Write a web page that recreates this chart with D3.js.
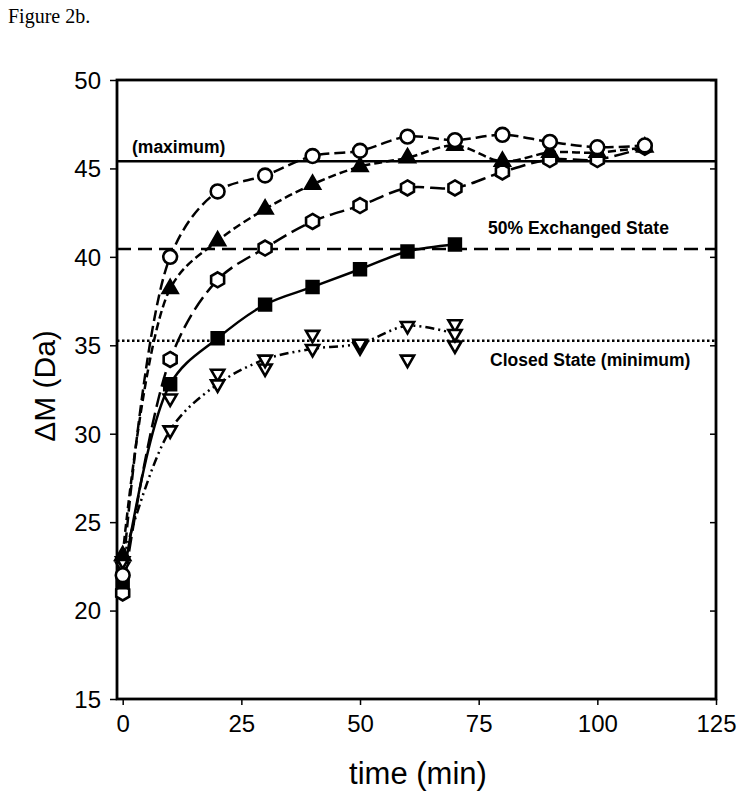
<!DOCTYPE html>
<html>
<head>
<meta charset="utf-8">
<script src="https://cdn.jsdelivr.net/npm/d3@7"></script>
<style>
  body { margin: 0; background: #fff; }
  svg { display: block; }
</style>
</head>
<body>
<svg id="chart" width="745" height="801"></svg>
<script>
// ---- data ----
const times = [0, 10, 20, 30, 40, 50, 60, 70, 80, 90, 100, 110];
const openCircle   = [22.0, 40.0, 43.7, 44.6, 45.7, 46.0, 46.8, 46.6, 46.9, 46.5, 46.2, 46.3];
const filledTri    = [23.1, 38.2, 40.9, 42.7, 44.1, 45.1, 45.6, 46.3, 45.4, 45.9, 45.9, 46.2];
const openHex      = [21.0, 34.2, 38.7, 40.5, 42.0, 42.9, 43.9, 43.9, 44.8, 45.5, 45.5, 46.2];
const squareTimes  = [0, 10, 20, 30, 40, 50, 60, 70];
const filledSquare = [21.6, 32.8, 35.4, 37.3, 38.3, 39.3, 40.3, 40.7];
const closedTimes  = [0, 10, 20, 30, 40, 50, 60, 70];
const closedRep1   = [22.8, 30.2, 32.8, 34.2, 34.8, 35.1, 36.1, 35.65];
const closedRep2   = [22.5, 32.0, 33.4, 33.7, 35.6, 34.9, 34.2, 35.0];
const closedRep3Times = [70];
const closedRep3   = [36.2];
const refMaximum = 45.4;
const refHalf    = 40.45;
const refClosed  = 35.25;
const xTicks = [0, 25, 50, 75, 100, 125];
const yTicks = [15, 20, 25, 30, 35, 40, 45, 50];

// ---- setup ----
const svg = d3.select("#chart");
const L = 117, R = 716, T = 80, B = 699;
const x = d3.scaleLinear().domain([-1.2, 125]).range([L, R]);
const y = d3.scaleLinear().domain([15, 50]).range([B, T]);

svg.append("text").attr("x", 8).attr("y", 23)
  .attr("font-family", "'Liberation Serif','Times New Roman',serif")
  .attr("font-size", 20).text("Figure 2b.");

// axes
const fontSans = "'Liberation Sans', Arial, sans-serif";
const gx = svg.append("g").attr("transform", `translate(0,${B})`)
  .call(d3.axisBottom(x).tickValues(xTicks).tickSize(6).tickPadding(10));
const gy = svg.append("g").attr("transform", `translate(${L},0)`)
  .call(d3.axisLeft(y).tickValues(yTicks).tickSize(7).tickPadding(9));
const gr = svg.append("g").attr("transform", `translate(${R},0)`)
  .call(d3.axisLeft(y).tickValues(yTicks).tickSize(6).tickFormat(""));
[gx, gy, gr].forEach(g => {
  g.select(".domain").remove();
  g.selectAll(".tick line").attr("stroke", "#000").attr("stroke-width", 1.5);
});
gx.selectAll("text").attr("font-family", fontSans).attr("font-size", 24).attr("fill", "#000");
gy.selectAll("text").attr("font-family", fontSans).attr("font-size", 24).attr("fill", "#000").attr("dy", "0.35em");

// frame
svg.append("rect").attr("x", L).attr("y", T).attr("width", R - L).attr("height", B - T)
  .attr("fill", "none").attr("stroke", "#000").attr("stroke-width", 2.8);

// axis titles
svg.append("text").attr("x", 418).attr("y", 784).attr("text-anchor", "middle")
  .attr("font-family", fontSans).attr("font-size", 31).text("time (min)");
svg.append("text").attr("transform", `translate(55,386) rotate(-90)`).attr("text-anchor", "middle")
  .attr("font-family", fontSans).attr("font-size", 30).text("ΔM (Da)");

// reference lines
const refG = svg.append("g");
refG.append("line").attr("x1", L).attr("x2", R).attr("y1", y(refMaximum)).attr("y2", y(refMaximum))
  .attr("stroke", "#000").attr("stroke-width", 2.5);
refG.append("line").attr("x1", L).attr("x2", R).attr("y1", y(refHalf)).attr("y2", y(refHalf))
  .attr("stroke", "#000").attr("stroke-width", 2.5).attr("stroke-dasharray", "14,7");
refG.append("line").attr("x1", L).attr("x2", R).attr("y1", y(refClosed)).attr("y2", y(refClosed))
  .attr("stroke", "#000").attr("stroke-width", 2.5).attr("stroke-dasharray", "2.5,2.5");

const lab = (t, xx, yy) => svg.append("text").attr("x", xx).attr("y", yy)
  .attr("font-family", fontSans).attr("font-weight", "bold").attr("font-size", 17.5).text(t);
lab("(maximum)", 132, 153);
lab("50% Exchanged State", 488, 234);
lab("Closed State (minimum)", 490, 366);

// lines
const lineGen = d3.line().x(d => x(d[0])).y(d => y(d[1])).curve(d3.curveCatmullRom.alpha(0.5));
const zip = (ts, vs) => ts.map((t, i) => [t, vs[i]]);
function drawLine(data, dash) {
  svg.append("path").datum(data).attr("d", lineGen)
    .attr("fill", "none").attr("stroke", "#000").attr("stroke-width", 2.5)
    .attr("stroke-dasharray", dash);
}
drawLine(zip(times, openHex), "15,6");
drawLine(zip(times, filledTri), "8,4");
drawLine(zip(times, openCircle), "11,5");
drawLine(zip(squareTimes, filledSquare), null);
drawLine(zip(closedTimes, closedRep1), "9,4,2,4,2,4");

// markers
const hexPath = (r) => {
  const pts = d3.range(6).map(i => {
    const a = Math.PI / 3 * i - Math.PI / 2;
    return [r * Math.cos(a), r * Math.sin(a)];
  });
  return "M" + pts.map(p => p.join(",")).join("L") + "Z";
};
function drawMarkers(data, pathStr, fill, rot) {
  svg.append("g").selectAll("path").data(data).join("path")
    .attr("d", pathStr)
    .attr("transform", d => `translate(${x(d[0])},${y(d[1])})` + (rot ? ` rotate(${rot})` : ""))
    .attr("fill", fill).attr("stroke", "#000").attr("stroke-width", 2.6);
}
drawMarkers(zip(times, openHex), hexPath(7.5), "#fff");
drawMarkers(zip(squareTimes, filledSquare), d3.symbol(d3.symbolSquare, 140)(), "#000");
drawMarkers(zip(closedTimes, closedRep2), d3.symbol(d3.symbolTriangle, 75)(), "#fff", 180);
drawMarkers(zip(closedRep3Times, closedRep3), d3.symbol(d3.symbolTriangle, 75)(), "#fff", 180);
drawMarkers(zip(closedTimes, closedRep1), d3.symbol(d3.symbolTriangle, 75)(), "#fff", 180);
drawMarkers(zip(times, filledTri), d3.symbol(d3.symbolTriangle, 95)(), "#000");
drawMarkers(zip(times, openCircle), d3.symbol(d3.symbolCircle, 150)(), "#fff");
</script>
</body>
</html>
